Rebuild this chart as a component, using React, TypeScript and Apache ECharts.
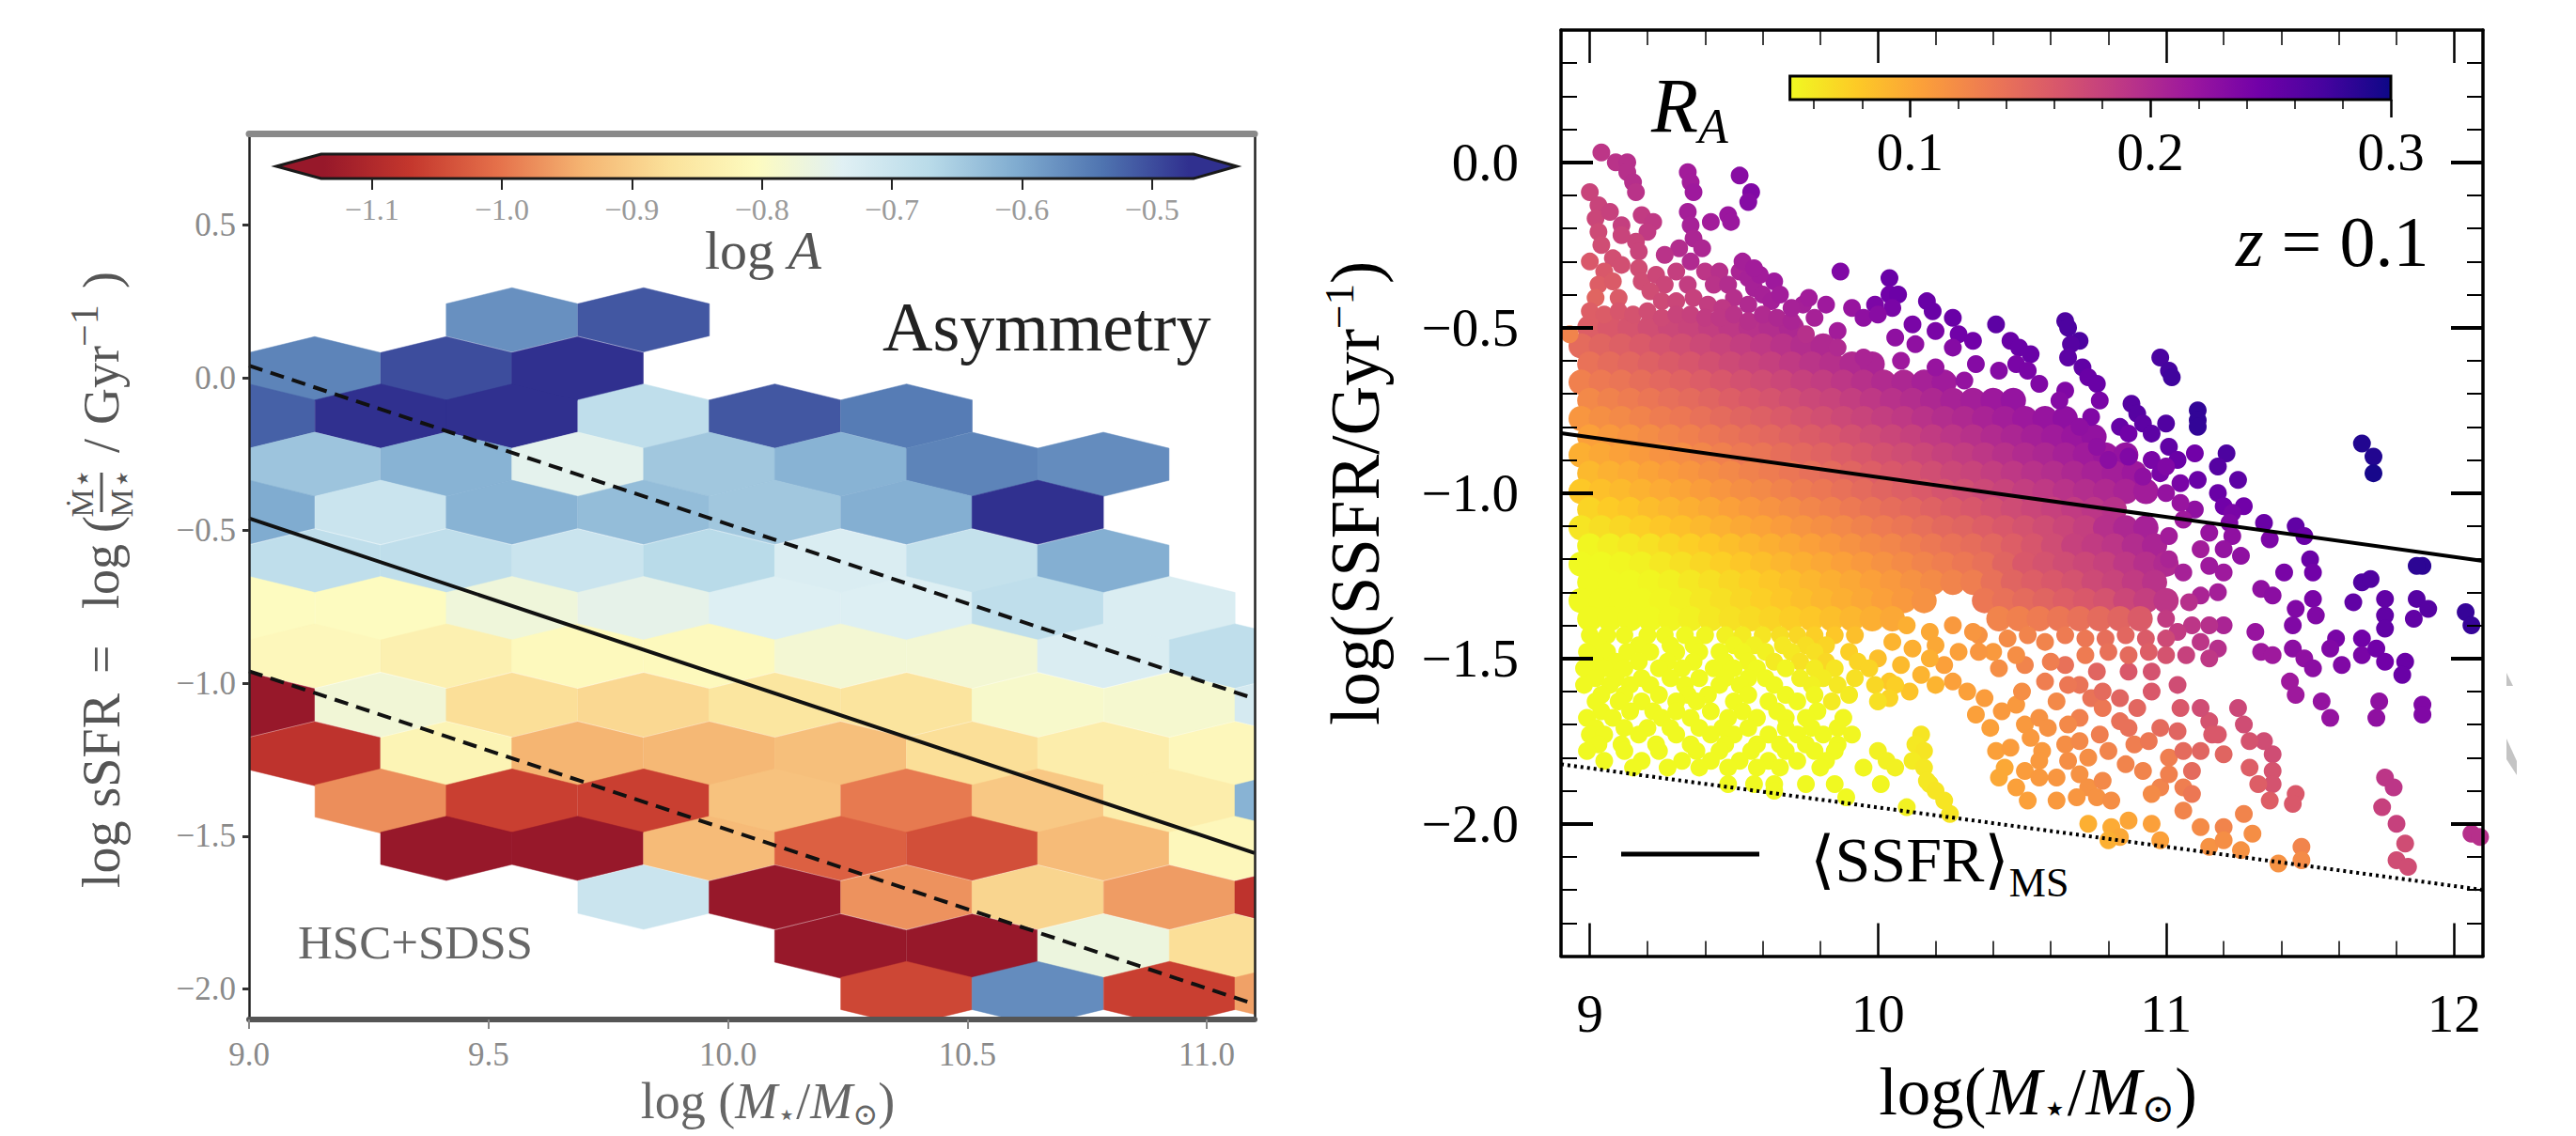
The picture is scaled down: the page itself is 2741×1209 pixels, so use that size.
import React, { useEffect, useRef } from "react";
import * as echarts from "echarts";

const SERIF = '"Liberation Serif", "DejaVu Serif", serif';

// ---------- Left panel: hexbins ----------
// [row y, x centres, log A per hexagon]
const hexRows: [number, number[], number[]][] = [
  [0.19, [9.549, 9.824], [-0.555, -0.49]],
  [0.03, [9.137, 9.412, 9.686], [-0.54, -0.48, -0.45]],
  [-0.125, [9.0, 9.275, 9.549, 9.824, 10.098, 10.373], [-0.5, -0.45, -0.45, -0.67, -0.49, -0.53]],
  [-0.283, [9.137, 9.412, 9.686, 9.961, 10.235, 10.51, 10.784], [-0.625, -0.6, -0.74, -0.63, -0.6, -0.54, -0.55]],
  [-0.44, [9.0, 9.275, 9.549, 9.824, 10.098, 10.373, 10.647], [-0.59, -0.69, -0.6, -0.615, -0.63, -0.595, -0.45]],
  [-0.6, [9.137, 9.412, 9.686, 9.961, 10.235, 10.51, 10.784], [-0.67, -0.67, -0.69, -0.66, -0.72, -0.68, -0.595]],
  [-0.755, [9.0, 9.275, 9.549, 9.824, 10.098, 10.373, 10.647, 10.922], [-0.8, -0.8, -0.765, -0.745, -0.725, -0.725, -0.67, -0.72]],
  [-0.91, [9.137, 9.412, 9.686, 9.961, 10.235, 10.51, 10.784, 11.059], [-0.81, -0.83, -0.805, -0.805, -0.775, -0.775, -0.72, -0.67]],
  [-1.07, [9.0, 9.275, 9.549, 9.824, 10.098, 10.373, 10.647, 10.922, 11.196], [-1.15, -0.77, -0.875, -0.885, -0.86, -0.865, -0.785, -0.78, -0.71]],
  [-1.23, [9.137, 9.412, 9.686, 9.961, 10.235, 10.51, 10.784, 11.059], [-1.09, -0.82, -0.94, -0.935, -0.925, -0.875, -0.84, -0.81]],
  [-1.385, [9.275, 9.549, 9.824, 10.098, 10.373, 10.647, 10.922, 11.196], [-0.98, -1.07, -1.07, -0.92, -1.0, -0.91, -0.84, -0.6]],
  [-1.54, [9.412, 9.686, 9.961, 10.235, 10.51, 10.784, 11.059], [-1.15, -1.15, -0.93, -1.03, -1.05, -0.93, -0.81]],
  [-1.7, [9.824, 10.098, 10.373, 10.647, 10.922, 11.196], [-0.69, -1.15, -0.975, -0.89, -0.965, -1.09]],
  [-1.86, [10.235, 10.51, 10.784, 11.059], [-1.15, -1.15, -0.76, -0.875]],
  [-2.015, [10.373, 10.647, 10.922, 11.196], [-1.06, -0.55, -1.07, -0.96]],
];
const hexWidth = 0.2745;
const hexHeight = 0.21;
const leftUpperDash = [[9, 0.04], [11.1, -1.05]];
const leftSolid = [[9, -0.46], [11.1, -1.555]];
const leftLowerDash = [[9, -0.96], [11.1, -2.05]];
const leftXTicks = [9, 9.5, 10, 10.5, 11];
const leftYTicks = [-2, -1.5, -1, -0.5, 0, 0.5];
const asymTicks = [-1.1, -1.0, -0.9, -0.8, -0.7, -0.6, -0.5];
const asymRange = [-1.15, -0.45];
const asymColors = ["#97182a", "#c4372d", "#e5704a", "#f5b572", "#fbe29b", "#fdfbc0", "#e0f0f4", "#b9dbe9", "#80acd0", "#4f74b0", "#30308f"];

// ---------- Right panel: scatter ----------
// dense interior, rows: [y*1000, [x*100, R_A*1000, ...]]
const denseRows: [number, number[]][] = [
  [-500, [900,155,907,160,914,164,921,169,928,174,935,178,942,183,949,188,956,193,963,197,970,202]],
  [-555, [897,145,904,150,911,154,918,159,925,164,932,168,939,173,946,178,953,183,960,187,967,192,974,197,981,201]],
  [-610, [900,139,907,144,914,148,921,153,928,158,935,162,942,167,949,172,956,177,963,181,970,186,977,191,984,195,991,200,998,205]],
  [-665, [897,128,904,133,911,137,918,142,925,147,932,151,939,156,946,161,953,166,960,170,967,175,974,180,981,184,988,189,995,194,1002,199,1009,203,1016,208,1023,213]],
  [-720, [900,122,907,127,914,131,921,136,928,141,935,145,942,150,949,155,956,160,963,164,970,169,977,174,984,178,991,183,998,188,1005,193,1012,197,1019,202,1026,207,1033,211,1040,216,1047,221]],
  [-775, [897,112,904,117,911,121,918,126,925,131,932,135,939,140,946,145,953,150,960,154,967,159,974,164,981,168,988,173,995,178,1002,183,1009,187,1016,192,1023,197,1030,201,1037,206,1044,211,1051,216,1058,220,1065,225]],
  [-830, [900,105,907,110,914,114,921,119,928,124,935,128,942,133,949,138,956,143,963,147,970,152,977,157,984,161,991,166,998,171,1005,176,1012,180,1019,185,1026,190,1033,194,1040,199,1047,204,1054,209,1061,213,1068,218,1075,223]],
  [-885, [897,95,904,100,911,104,918,109,925,114,932,118,939,123,946,128,953,133,960,137,967,142,974,147,981,151,988,156,995,161,1002,166,1009,170,1016,175,1023,180,1030,184,1037,189,1044,194,1051,199,1058,203,1065,208,1072,213,1079,217,1086,222]],
  [-940, [900,89,907,94,914,98,921,103,928,108,935,112,942,117,949,122,956,127,963,131,970,136,977,141,984,145,991,150,998,155,1005,160,1012,164,1019,169,1026,174,1033,178,1040,183,1047,188,1054,193,1061,197,1068,202,1075,207,1082,211,1089,216]],
  [-995, [897,79,904,84,911,88,918,93,925,98,932,102,939,107,946,112,953,117,960,121,967,126,974,131,981,135,988,140,995,145,1002,150,1009,154,1016,159,1023,164,1030,168,1037,173,1044,178,1051,183,1058,187,1065,192,1072,197,1079,201,1086,206,1093,212]],
  [-1050, [900,72,907,77,914,81,921,86,928,91,935,95,942,100,949,105,956,110,963,114,970,119,977,124,984,128,991,133,998,138,1005,143,1012,147,1019,152,1026,157,1033,161,1040,166,1047,171,1054,176,1061,180,1068,185,1075,190,1082,194]],
  [-1105, [897,62,904,66,911,70,918,75,925,80,932,84,939,89,946,94,953,99,960,103,967,108,974,113,981,117,988,122,995,127,1002,132,1009,136,1016,141,1023,146,1030,150,1037,155,1044,160,1051,165,1058,170,1065,176,1072,182,1079,195,1086,202,1093,208]],
  [-1160, [900,52,907,56,914,60,921,64,928,70,935,75,942,80,949,85,956,90,963,95,970,100,977,105,984,110,991,115,998,120,1005,124,1012,129,1019,134,1026,139,1033,143,1040,148,1047,155,1054,162,1061,170,1068,180,1075,185,1082,190,1089,198,1096,205]],
  [-1215, [897,50,904,50,911,52,918,55,925,60,932,65,939,70,946,75,953,80,960,85,967,90,974,95,981,100,988,105,995,110,1002,115,1009,120,1016,125,1023,130,1030,135,1037,140,1044,150,1051,160,1058,165,1065,170,1072,175,1079,180,1086,188,1093,195,1100,200]],
  [-1270, [900,50,907,50,914,50,921,52,928,55,935,60,942,65,949,70,956,75,963,80,970,85,977,90,984,95,991,100,998,105,1005,110,1012,115,1019,120,1026,125,1033,130,1040,140,1047,150,1054,155,1061,160,1068,165,1075,172,1082,178,1089,185,1096,192]],
  [-1325, [897,50,904,50,911,50,918,50,925,52,932,55,939,60,946,65,953,70,960,75,967,80,974,85,981,90,988,95,995,100,1002,105,1009,110,1016,115,1037,135,1044,140,1051,145,1058,150,1065,155,1072,160,1079,165,1086,175,1093,182,1100,190]],
  [-1380, [900,50,907,50,914,50,921,50,928,52,935,55,942,60,949,64,956,68,963,72,970,76,977,80,984,85,991,90,998,95,1005,100,1042,125,1049,128,1056,132,1063,136,1070,140,1077,145,1084,150,1091,158]],
];
// outlying galaxies, triples: x*100, y*100, R_A*1000
const outlierPoints: number[] = [
  904,3,190, 909,0,192, 913,0,195, 913,-3,195, 915,-6,196, 916,-9,192, 900,-9,178, 903,-13,178, 902,-17,176, 907,-15,180, 911,-19,182, 918,-16,185, 922,-18,187, 920,-21,186,
  934,-3,212, 935,-6,212, 936,-9,215, 952,-4,230, 956,-9,235, 955,-12,232,
  934,-15,210, 935,-19,208, 942,-18,212, 948,-16,218, 949,-18,218, 936,-23,204, 931,-26,198, 939,-26,203, 935,-30,200, 926,-28,192,
  916,-24,178, 917,-27,178, 903,-21,172, 904,-25,170, 908,-29,168, 911,-22,178, 911,-31,168,
  900,-30,160, 905,-33,160, 903,-37,155, 908,-36,158, 902,-41,150, 910,-41,158, 917,-32,170, 918,-36,170, 923,-34,175, 926,-37,176, 930,-33,182, 934,-37,184, 921,-39,170, 925,-42,172, 930,-42,176, 936,-41,180, 940,-33,190, 945,-33,195, 943,-37,192, 948,-37,198, 952,-33,205, 955,-35,208, 957,-38,208, 950,-41,196, 955,-43,200, 960,-40,208, 963,-42,210, 941,-43,184, 946,-44,188,
  900,-45,155, 905,-46,157, 910,-45,162, 915,-46,165, 920,-45,170, 925,-47,172, 930,-46,178, 935,-46,180, 940,-47,185, 945,-47,188, 950,-46,192, 955,-48,195, 960,-46,200, 965,-47,202, 970,-48,205, 893,-52,125,
  974,-43,210, 982,-43,215, 976,-41,212, 991,-44,220, 987,-33,235, 1004,-35,250, 1004,-40,245, 1007,-40,248, 999,-43,238, 1005,-44,240, 995,-47,225, 1000,-46,230,
  964,-36,215, 959,-34,212, 966,-40,212, 970,-44,208, 978,-47,208, 986,-51,212, 953,-30,210, 957,-32,212,
  1017,-42,250, 1019,-45,250, 1026,-47,250, 1012,-49,240, 1020,-51,240, 1028,-52,245, 1033,-54,245, 1041,-49,258, 1046,-54,250, 1049,-56,250, 1053,-58,250,
  1006,-53,225, 1013,-55,225, 1026,-56,232, 1034,-61,232, 1042,-63,232, 1048,-61,240, 1052,-63,240, 1056,-67,235,
  1065,-48,268, 1066,-50,268, 1070,-54,268, 1067,-55,262, 1066,-59,258, 1071,-62,255, 1073,-65,250, 1065,-69,235, 1063,-72,232, 1076,-67,250, 1077,-72,240, 1074,-77,235, 1070,-80,225,
  995,-59,205, 986,-56,200, 975,-52,195, 1008,-60,215, 1020,-62,220, 1030,-66,222,
  1098,-59,270, 1101,-63,272, 1102,-65,275,
  1088,-73,262, 1090,-76,262, 1092,-79,258, 1084,-80,252, 1100,-79,265, 1095,-82,258, 1087,-82,245, 1101,-86,255,
  1104,-90,250, 1095,-90,240, 1087,-89,235, 1080,-90,228, 1076,-86,225, 1105,-97,240, 1098,-94,240, 1111,-75,282, 1111,-78,282, 1111,-80,282,
  1110,-88,245, 1100,-92,235, 1092,-95,225, 1110,-105,225, 1100,-100,222, 1105,-103,220, 1115,-112,220,
  1121,-88,268, 1118,-92,262, 1125,-96,258, 1111,-96,250, 1118,-100,250,
  1168,-85,290, 1172,-89,290, 1172,-94,295,
  1120,-104,245, 1127,-104,245, 1123,-106,240, 1122,-109,235, 1134,-109,250, 1145,-110,255, 1148,-113,250, 1136,-114,238, 1123,-113,225, 1120,-117,222, 1106,-108,215, 1101,-113,212, 1115,-122,215, 1126,-119,225, 1112,-117,212, 1101,-120,205, 1106,-124,208, 1120,-124,215, 1189,-122,285, 1187,-122,285,
  1150,-120,250, 1141,-124,240, 1151,-124,245,
  1151,-132,240, 1145,-135,235, 1152,-137,235, 1133,-129,225, 1137,-131,228, 1112,-131,205, 1118,-130,210, 1108,-133,195, 1120,-140,205, 1115,-140,195, 1109,-140,190, 1100,-138,185, 1104,-142,185, 1112,-145,190, 1118,-147,195, 1115,-150,188, 1107,-149,180, 1131,-142,220, 1133,-148,215, 1137,-149,215,
  1168,-127,265, 1171,-126,265, 1165,-133,255, 1176,-132,255, 1176,-137,255, 1176,-141,255, 1187,-132,262, 1191,-135,262, 1186,-138,255, 1204,-136,280, 1206,-140,280, 1144,-140,235,
  1168,-144,245, 1159,-144,240, 1157,-147,235, 1161,-152,235, 1168,-149,240, 1173,-147,245, 1176,-151,245, 1183,-151,250, 1182,-155,250, 1144,-147,228, 1148,-150,225, 1151,-153,228,
  1143,-157,215, 1145,-161,215, 1154,-163,222, 1157,-168,222, 1174,-163,225, 1173,-168,225, 1189,-164,235, 1189,-167,235,
  1176,-186,190, 1179,-189,190, 1175,-195,180, 1180,-200,180, 1183,-206,170, 1180,-211,170, 1184,-213,170,
  1206,-203,195, 1209,-204,195,
  1147,-207,125, 1147,-211,120, 1139,-212,115, 1130,-203,118, 1126,-208,115,
  1145,-191,160, 1137,-179,170, 1137,-184,165, 1137,-188,165, 1132,-188,155, 1136,-193,155, 1144,-194,160, 1134,-175,170, 1129,-175,165, 1127,-170,170, 1125,-165,175, 1115,-169,165, 1116,-173,160, 1112,-178,150, 1109,-184,145, 1120,-179,150, 1112,-165,170, 1118,-173,160, 1129,-183,155,
  1106,-196,125, 1112,-201,120, 1115,-207,115, 1120,-201,125, 1127,-197,125, 1120,-205,118,
  1073,-200,95, 1081,-201,98, 1084,-204,100, 1095,-200,105, 1098,-205,105, 1080,-205,95, 1087,-199,102,
  1023,-152,105, 1026,-157,105, 1031,-160,105, 1034,-167,105, 1039,-171,105, 1041,-178,105, 1044,-183,100, 1042,-186,100, 1048,-189,105, 1052,-193,105, 1062,-193,110,
  1048,-164,110, 1051,-170,110, 1056,-168,115, 1059,-171,115, 1053,-174,110, 1057,-178,110, 1056,-181,110, 1051,-184,108, 1056,-186,110, 1065,-176,118, 1070,-175,122, 1077,-173,130, 1073,-180,118, 1070,-185,115, 1073,-189,115, 1076,-192,115, 1081,-193,118, 1069,-192,112,
  1058,-157,130, 1070,-158,138, 1074,-162,138, 1070,-168,128, 1084,-162,150, 1084,-169,140, 1098,-171,145, 1089,-176,130, 1092,-184,125, 1098,-189,125, 1101,-180,130, 1101,-185,128, 1095,-191,120, 1106,-189,130, 1109,-191,135, 1087,-171,140, 1095,-160,160, 1104,-158,170, 1095,-154,165, 1087,-154,160, 1076,-154,150, 1065,-152,140, 1060,-151,130, 1051,-152,125, 1042,-153,118, 1105,-165,160,
  1037,-162,108, 1043,-166,110, 1050,-160,118, 1062,-163,122, 1066,-170,122, 1078,-165,135, 1080,-178,125, 1066,-181,118, 1086,-182,125, 1090,-165,148, 1094,-175,135, 1062,-186,112, 1046,-177,108, 1104,-172,150, 1106,-178,145, 1078,-187,122, 1066,-158,135, 1078,-160,145,
  1035,-143,115, 1045,-144,120, 1052,-143,125, 1058,-145,125, 1065,-143,132, 1072,-144,135, 1079,-144,142, 1086,-143,148, 1093,-144,158, 1100,-144,172,
  1040,-148,110, 1048,-149,118, 1072,-149,132, 1080,-148,140, 1087,-149,145, 1094,-148,155, 1100,-149,165,
  1010,-140,95, 1018,-142,100, 1026,-140,110, 1033,-142,112, 1005,-145,92, 1012,-147,95, 1020,-146,100, 1028,-148,105, 1000,-150,85, 1008,-152,88, 1015,-155,92, 1018,-150,95, 1004,-157,80, 1011,-160,82, 1020,-158,92, 1035,-148,112, 1006,-158,75, 1004,-162,72,
  900,-143,50, 906,-143,50, 912,-143,50, 920,-143,50, 926,-143,50, 933,-143,50, 940,-143,52, 947,-143,55, 953,-143,58, 960,-143,62, 966,-143,66, 972,-143,70, 978,-143,75, 985,-143,80, 992,-143,85,
  903,-146,50, 917,-146,50, 928,-146,50, 936,-146,50, 950,-146,52, 957,-146,55, 967,-146,60, 975,-146,66, 982,-146,72,
  899,-148,50, 906,-148,50, 913,-148,50, 921,-148,50, 930,-148,50, 938,-148,50, 945,-148,50, 953,-148,52, 961,-148,55, 970,-148,60, 978,-148,65, 990,-148,75,
  902,-151,50, 909,-151,50, 917,-151,50, 927,-151,50, 936,-151,50, 947,-151,50, 955,-151,52, 964,-151,58, 973,-151,64, 982,-151,70, 993,-151,72,
  898,-153,50, 905,-153,50, 912,-153,50, 924,-153,50, 932,-153,50, 943,-153,50, 950,-153,50, 958,-153,50, 968,-153,52, 978,-153,58, 985,-153,62, 997,-153,72,
  902,-156,50, 909,-156,50, 918,-156,50, 928,-156,50, 938,-156,50, 947,-156,50, 955,-156,50, 961,-156,50, 973,-156,55, 981,-156,58, 992,-156,65,
  898,-158,50, 907,-158,50, 914,-158,50, 921,-158,50, 933,-158,50, 945,-158,50, 952,-158,50, 964,-158,50, 977,-158,55, 986,-158,60, 999,-158,70,
  904,-161,50, 912,-161,50, 924,-161,50, 934,-161,50, 941,-161,50, 955,-161,50, 968,-161,50, 978,-161,52, 990,-161,58,
  902,-163,50, 910,-163,50, 918,-163,50, 930,-163,50, 937,-163,50, 950,-163,50, 962,-163,50, 972,-163,50, 984,-163,58, 1000,-163,65,
  904,-166,50, 914,-166,50, 922,-166,50, 930,-166,50, 942,-166,50, 953,-166,50, 965,-166,50, 979,-166,50,
  899,-168,50, 908,-168,50, 925,-168,50, 935,-168,50, 948,-168,50, 958,-168,50, 968,-168,50, 975,-168,50, 988,-168,52,
  902,-171,50, 912,-171,50, 920,-171,50, 928,-171,50, 938,-171,50, 946,-171,50, 955,-171,50, 968,-171,50, 977,-171,50, 986,-171,52,
  900,-173,50, 905,-173,50, 917,-173,50, 930,-173,50, 942,-173,50, 950,-173,50, 962,-173,50, 972,-173,50, 981,-173,50, 991,-173,52, 1015,-173,62,
  903,-176,50, 911,-176,50, 923,-176,50, 935,-176,50, 947,-176,50, 958,-176,50, 966,-176,50, 975,-176,50, 986,-176,50, 1013,-176,60,
  899,-178,50, 912,-178,50, 924,-178,50, 937,-178,50, 945,-178,50, 956,-178,50, 968,-178,50, 978,-178,50, 985,-178,50, 1000,-178,55, 1016,-178,62,
  905,-181,50, 918,-181,50, 932,-181,50, 942,-181,50, 952,-181,50, 962,-181,50, 972,-181,50, 982,-181,50, 1003,-181,55, 1012,-181,58,
  915,-183,50, 927,-183,50, 938,-183,50, 948,-183,50, 958,-183,50, 966,-183,50, 980,-183,50, 995,-183,52, 1006,-183,55, 1016,-183,60,
  948,-188,50, 957,-188,50, 964,-188,50, 975,-188,50, 985,-188,50, 1001,-188,52, 1018,-188,60,
  964,-190,50, 989,-192,50, 1010,-195,55, 1017,-187,60, 1020,-190,62, 1023,-193,62, 1025,-197,62,
];
const rightSolid = [[8.9, -0.819], [12.1, -1.205]];
const rightDotted = [[8.9, -1.82], [12.1, -2.2]];
const rightXMajor = [9, 10, 11, 12];
const rightXMinor = [9.2, 9.4, 9.6, 9.8, 10.2, 10.4, 10.6, 10.8, 11.2, 11.4, 11.6, 11.8];
const rightYMajor = [-2, -1.5, -1, -0.5, 0];
const rightYMinor = [-2.3, -2.2, -2.1, -1.9, -1.8, -1.7, -1.6, -1.4, -1.3, -1.2, -1.1, -0.9, -0.8, -0.7, -0.6, -0.4, -0.3, -0.2, -0.1, 0.1, 0.2, 0.3];
const raMajor = [0.1, 0.2, 0.3];
const raMinor = [0.06, 0.08, 0.12, 0.14, 0.16, 0.18, 0.22, 0.24, 0.26, 0.28];
const raRange = [0.05, 0.3];
const plasmaColors = ["#f0f921", "#fdca26", "#fb9f3a", "#ed7953", "#d8576b", "#bd3786", "#9c179e", "#7201a8", "#46039f", "#0d0887"];

const hexData: number[][] = [];
hexRows.forEach(([y, xs, vs]) => xs.forEach((x, i) => hexData.push([x, y, vs[i]])));
const denseData: number[][] = [];
denseRows.forEach(([y, list]) => {
  for (let i = 0; i < list.length; i += 2) denseData.push([list[i] / 100, y / 1000, list[i + 1] / 1000]);
});
const outlierData: number[][] = [];
for (let i = 0; i < outlierPoints.length; i += 3) {
  outlierData.push([outlierPoints[i] / 100, outlierPoints[i + 1] / 100, outlierPoints[i + 2] / 1000]);
}

const minus = (v: number, digits = 1) => v.toFixed(digits).replace("-", "\u2212");
const stops = (cols: string[]) => cols.map((color, i) => ({ offset: i / (cols.length - 1), color }));

const renderHex = (params: any, api: any) => {
  const x = api.value(0);
  const y = api.value(1);
  const w = hexWidth / 2;
  const h = hexHeight / 2;
  const pts = [[x, y + h], [x + w, y + h / 2], [x + w, y - h / 2], [x, y - h], [x - w, y - h / 2], [x - w, y + h / 2]].map((p) => api.coord(p));
  return { type: "polygon", shape: { points: pts }, style: { fill: api.visual("color"), stroke: api.visual("color"), lineWidth: 0.5 } };
};

const renderAsymBar = (params: any, api: any) => {
  const bottom = api.coord([api.value(0), 0])[1];
  const top = api.coord([api.value(0), 1])[1];
  const mid = (bottom + top) / 2;
  const [tipL, bodyL, bodyR, tipR] = [0, 1, 2, 3].map((i) => api.coord([api.value(i), 0])[0]);
  const pts = [[tipL, mid], [bodyL, top], [bodyR, top], [tipR, mid], [bodyR, bottom], [bodyL, bottom]];
  return {
    type: "polygon",
    shape: { points: pts },
    style: {
      fill: new echarts.graphic.LinearGradient(0.05, 0, 0.95, 0, stops(asymColors)),
      stroke: "#1a1a1a",
      lineWidth: 3,
    },
  };
};

const renderRaBar = (params: any, api: any) => {
  const a = api.coord([api.value(0), 0]);
  const b = api.coord([api.value(1), 1]);
  return {
    type: "rect",
    shape: { x: a[0], y: b[1], width: b[0] - a[0], height: a[1] - b[1] },
    style: {
      fill: new echarts.graphic.LinearGradient(0, 0, 1, 0, stops(plasmaColors)),
      stroke: "#000",
      lineWidth: 3,
    },
  };
};

const NO_LINE = { show: false, onZero: false };
const hiddenAxis = (grid: number, extra: any = {}) => ({
  type: "value", gridIndex: grid, axisLine: NO_LINE, axisTick: { show: false }, axisLabel: { show: false }, splitLine: { show: false }, ...extra,
});

function buildOption(): any {
  const lineA = (color: string, w: number) => ({ show: true, onZero: false, lineStyle: { color, width: w } });
  const RIGHT_X = { min: 8.9, max: 12.1, gridIndex: 2, type: "value", splitLine: { show: false } };
  const RIGHT_Y = { min: -2.4, max: 0.4, gridIndex: 2, type: "value", splitLine: { show: false } };
  const tickX = (values: number[], length: number, width: number) => ({ show: true, inside: true, length, customValues: values, lineStyle: { color: "#000", width } });
  const nameRich = (c: string, size: number) => ({
    n: { fontFamily: SERIF, fontSize: size, color: c, lineHeight: size * 1.1 },
    i: { fontFamily: SERIF, fontStyle: "italic", fontSize: size, color: c, lineHeight: size * 1.1 },
    s: { fontFamily: '"DejaVu Serif", serif', fontSize: size * 0.6, color: c, lineHeight: size * 1.1, verticalAlign: "bottom" },
    u: { fontFamily: SERIF, fontSize: size * 0.62, color: c, lineHeight: size * 1.1, verticalAlign: "top" },
  });
  return {
    animation: false,
    backgroundColor: "#fff",
    grid: [
      { left: 265, top: 142, width: 1070, height: 943, outerBoundsMode: "none" },
      { left: 294, top: 164, width: 1022, height: 26, outerBoundsMode: "none" },
      { left: 1661, top: 32, width: 981, height: 985.5, outerBoundsMode: "none" },
      { left: 1904.6, top: 81, width: 639.4, height: 25, outerBoundsMode: "none" },
    ],
    xAxis: [
      {
        type: "value", gridIndex: 0, min: 9, max: 11.1, position: "bottom", z: 6,
        axisLine: lineA("#555", 6),
        axisTick: { show: true, length: 10, customValues: leftXTicks, lineStyle: { color: "#888", width: 2 } },
        axisLabel: { customValues: leftXTicks, margin: 20, fontFamily: SERIF, fontSize: 35, color: "#8a8a8a", formatter: (v: number) => minus(v) },
        splitLine: { show: false },
        name: "{n|log (}{i|M}{s|\u22c6}{n|/}{i|M}{s|\u2299}{n|)}", nameLocation: "middle", nameGap: 55,
        nameTextStyle: { rich: nameRich("#666", 54), padding: [0, 0, 0, 34] },
      },
      { ...hiddenAxis(0), min: 9, max: 11.1, position: "top", z: 6, axisLine: lineA("#8a8a8a", 7) },
      {
        type: "value", gridIndex: 1, min: -1.1735, max: -0.4347, position: "bottom", z: 6,
        axisLine: NO_LINE,
        axisTick: { show: true, length: 12, customValues: asymTicks, lineStyle: { color: "#222", width: 2 } },
        axisLabel: { customValues: asymTicks, margin: 17, fontFamily: SERIF, fontSize: 32, color: "#9a9a9a", formatter: (v: number) => minus(v) },
        splitLine: { show: false },
      },
      {
        ...RIGHT_X, position: "bottom", z: 6, axisLine: lineA("#000", 3.5), axisTick: tickX(rightXMajor, 35, 2.5),
        axisLabel: { customValues: rightXMajor, margin: 32, fontFamily: SERIF, fontSize: 57, color: "#000" },
        name: "{n|log(}{i|M}{s|\u22c6}{n|/}{i|M}{s|\u2299}{n|)}", nameLocation: "middle", nameGap: 105,
        nameTextStyle: { rich: nameRich("#000", 71), padding: [0, 0, 0, 34] },
      },
      { ...RIGHT_X, position: "bottom", z: 6, axisLine: NO_LINE, axisTick: tickX(rightXMinor, 16, 1.5), axisLabel: { show: false } },
      { ...RIGHT_X, position: "top", z: 6, axisLine: lineA("#000", 3.5), axisTick: tickX(rightXMajor, 35, 2.5), axisLabel: { show: false } },
      { ...RIGHT_X, position: "top", z: 6, axisLine: NO_LINE, axisTick: tickX(rightXMinor, 16, 1.5), axisLabel: { show: false } },
      {
        type: "value", gridIndex: 3, min: 0.05, max: 0.3, position: "bottom", z: 6, splitLine: { show: false },
        axisLine: NO_LINE,
        axisTick: { show: true, length: 19, customValues: raMajor, lineStyle: { color: "#000", width: 2.5 } },
        axisLabel: { customValues: raMajor, margin: 27, fontFamily: SERIF, fontSize: 57, color: "#000", formatter: (v: number) => v.toFixed(1) },
      },
      {
        type: "value", gridIndex: 3, min: 0.05, max: 0.3, position: "bottom", z: 6, splitLine: { show: false },
        axisLine: NO_LINE,
        axisTick: { show: true, length: 10, customValues: raMinor, lineStyle: { color: "#000", width: 1.5 } },
        axisLabel: { show: false },
      },
    ],
    yAxis: [
      {
        type: "value", gridIndex: 0, min: -2.1, max: 0.8, position: "left", z: 6,
        axisLine: lineA("#222", 2.5),
        axisTick: { show: true, length: 7, customValues: leftYTicks, lineStyle: { color: "#333", width: 3 } },
        axisLabel: { customValues: leftYTicks, margin: 14, fontFamily: SERIF, fontSize: 35, color: "#8a8a8a", formatter: (v: number) => minus(v) },
        splitLine: { show: false },
      },
      { ...hiddenAxis(0), min: -2.1, max: 0.8, position: "right", z: 6, axisLine: lineA("#222", 2.5) },
      { ...hiddenAxis(1), min: 0, max: 1 },
      {
        ...RIGHT_Y, position: "left", z: 6, axisLine: lineA("#000", 3.5), axisTick: tickX(rightYMajor, 34, 4),
        axisLabel: { customValues: rightYMajor, margin: 45, fontFamily: SERIF, fontSize: 57, color: "#000", formatter: (v: number) => minus(v) },
        name: "{n|log(SSFR/Gyr}{u|\u22121}{n|)}", nameLocation: "middle", nameGap: 178, nameRotate: 90,
        nameTextStyle: { rich: nameRich("#000", 73) },
      },
      { ...RIGHT_Y, position: "left", z: 6, axisLine: NO_LINE, axisTick: tickX(rightYMinor, 17, 2), axisLabel: { show: false } },
      { ...RIGHT_Y, position: "right", z: 6, axisLine: lineA("#000", 3.5), axisTick: tickX(rightYMajor, 34, 4), axisLabel: { show: false } },
      { ...RIGHT_Y, position: "right", z: 6, axisLine: NO_LINE, axisTick: tickX(rightYMinor, 17, 2), axisLabel: { show: false } },
      { ...hiddenAxis(3), min: 0, max: 1 },
    ],
    visualMap: [
      { show: false, type: "continuous", seriesIndex: 0, dimension: 2, min: asymRange[0], max: asymRange[1], inRange: { color: asymColors } },
      { show: false, type: "continuous", seriesIndex: [4, 5], dimension: 2, min: raRange[0], max: raRange[1], inRange: { color: plasmaColors } },
    ],
    series: [
      { id: "hexbins", type: "custom", xAxisIndex: 0, yAxisIndex: 0, clip: true, renderItem: renderHex, data: hexData, encode: { x: 0, y: 1 }, z: 2 },
      { type: "line", xAxisIndex: 0, yAxisIndex: 0, data: leftUpperDash, showSymbol: false, symbol: "none", z: 4, lineStyle: { color: "#111", width: 4, type: [15, 9] } },
      { type: "line", xAxisIndex: 0, yAxisIndex: 0, data: leftSolid, showSymbol: false, symbol: "none", z: 4, lineStyle: { color: "#111", width: 4 } },
      { type: "line", xAxisIndex: 0, yAxisIndex: 0, data: leftLowerDash, showSymbol: false, symbol: "none", z: 4, lineStyle: { color: "#111", width: 4, type: [15, 9] } },
      { id: "denseGalaxies", type: "scatter", xAxisIndex: 3, yAxisIndex: 3, data: denseData, symbolSize: 27, clip: true, z: 2, large: false, itemStyle: { opacity: 1 }, emphasis: { disabled: true } },
      { id: "outlierGalaxies", type: "scatter", xAxisIndex: 3, yAxisIndex: 3, data: outlierData, symbolSize: 19, clip: true, z: 3, large: false, itemStyle: { opacity: 1 }, emphasis: { disabled: true } },
      { type: "line", xAxisIndex: 3, yAxisIndex: 3, data: rightSolid, showSymbol: false, symbol: "none", z: 5, lineStyle: { color: "#000", width: 4 } },
      { type: "line", xAxisIndex: 3, yAxisIndex: 3, data: rightDotted, showSymbol: false, symbol: "none", z: 5, lineStyle: { color: "#000", width: 4, type: [3, 4] } },
      { id: "asymColorbar", type: "custom", xAxisIndex: 2, yAxisIndex: 2, clip: false, renderItem: renderAsymBar, data: [[-1.1735, -1.139, -0.468, -0.4347]], encode: { x: [0, 3] }, z: 4 },
      { id: "raColorbar", type: "custom", xAxisIndex: 7, yAxisIndex: 7, clip: false, renderItem: renderRaBar, data: [[0.05, 0.3]], encode: { x: [0, 1] }, z: 4 },
    ],
    graphic: [
      {
        type: "group", x: 108, y: 945, rotation: Math.PI / 2, z: 20,
        children: [
          { type: "text", x: 0, y: 0, style: { text: "log sSFR", fontFamily: SERIF, fontSize: 56, fill: "#555", textVerticalAlign: "middle" } },
          { type: "text", x: 228, y: 0, style: { text: "=", fontFamily: SERIF, fontSize: 54, fill: "#555", textVerticalAlign: "middle" } },
          { type: "text", x: 297, y: 0, style: { text: "log", fontFamily: SERIF, fontSize: 54, fill: "#555", textVerticalAlign: "middle" } },
          { type: "text", x: 378, y: 0, style: { text: "(", fontFamily: SERIF, fontSize: 54, fill: "#555", textVerticalAlign: "middle" } },
          { type: "text", x: 420, y: -21, style: { text: "\u1e40\u22c6", fontFamily: SERIF, fontSize: 34, fill: "#555", textAlign: "center", textVerticalAlign: "middle" } },
          { type: "rect", shape: { x: 400, y: -1.5, width: 42, height: 3 }, style: { fill: "#555" } },
          { type: "text", x: 420, y: 21, style: { text: "M\u22c6", fontFamily: SERIF, fontSize: 34, fill: "#555", textAlign: "center", textVerticalAlign: "middle" } },
          { type: "text", x: 463, y: 0, style: { text: "/", fontFamily: SERIF, fontSize: 54, fill: "#555", textVerticalAlign: "middle" } },
          { type: "text", x: 493, y: 0, style: { text: "Gyr", fontFamily: SERIF, fontSize: 54, fill: "#555", textVerticalAlign: "middle" } },
          { type: "text", x: 576, y: -18, style: { text: "\u22121", fontFamily: SERIF, fontSize: 42, fill: "#555", textVerticalAlign: "middle" } },
          { type: "text", x: 638, y: 0, style: { text: ")", fontFamily: SERIF, fontSize: 54, fill: "#555", textVerticalAlign: "middle" } },
        ],
      },
      { type: "text", x: 812, y: 266, z: 20, style: { text: "{n|log }{i|A}", textAlign: "center", textVerticalAlign: "middle", rich: { n: { fontFamily: SERIF, fontSize: 58, fill: "#555", lineHeight: 50 }, i: { fontFamily: SERIF, fontStyle: "italic", fontSize: 58, fill: "#555", lineHeight: 50 } } } },
      { type: "text", x: 939, y: 348, z: 20, style: { text: "Asymmetry", fontFamily: SERIF, fontSize: 74, fill: "#222", textVerticalAlign: "middle" } },
      { type: "text", x: 317, y: 1003, z: 20, style: { text: "HSC+SDSS", fontFamily: SERIF, fontSize: 51, fill: "#666", textVerticalAlign: "middle" } },
      { type: "text", x: 1757, y: 112, z: 20, style: { text: "{r|R}{a|A}", rich: { r: { fontFamily: SERIF, fontStyle: "italic", fontSize: 82, fill: "#000", lineHeight: 96 }, a: { fontFamily: SERIF, fontStyle: "italic", fontSize: 52, fill: "#000", lineHeight: 96, verticalAlign: "bottom" } }, textVerticalAlign: "middle" } },
      { type: "text", x: 2379, y: 257, z: 20, style: { text: "{i|z}{n| = 0.1}", rich: { i: { fontFamily: SERIF, fontStyle: "italic", fontSize: 76, fill: "#000" }, n: { fontFamily: SERIF, fontSize: 76, fill: "#000" } }, textVerticalAlign: "middle" } },
      { type: "line", z: 20, shape: { x1: 1725, y1: 909, x2: 1872, y2: 909 }, style: { stroke: "#000", lineWidth: 5 } },
      { type: "text", x: 1926, y: 915, z: 20, style: { text: "{n|\u27e8SSFR\u27e9}{s|MS}", rich: { n: { fontFamily: SERIF, fontSize: 68, fill: "#000", lineHeight: 92 }, s: { fontFamily: SERIF, fontSize: 44, fill: "#000", lineHeight: 92, verticalAlign: "bottom" } }, textVerticalAlign: "middle" } },
      { type: "polygon", z: 20, shape: { points: [[2667, 716], [2674, 730], [2667, 730]] }, style: { fill: "#c4c4c4" } },
      { type: "polygon", z: 20, shape: { points: [[2667, 786], [2678, 810], [2678, 825], [2667, 808]] }, style: { fill: "#c4c4c4" } },
    ],
  };
}

export default function App() {
  const ref = useRef<HTMLDivElement>(null);
  useEffect(() => {
    document.body.style.margin = "0";
    const chart = echarts.init(ref.current!, undefined, { renderer: "svg" });
    chart.setOption(buildOption());
    return () => chart.dispose();
  }, []);
  return <div ref={ref} style={{ width: 2741, height: 1209 }} />;
}
